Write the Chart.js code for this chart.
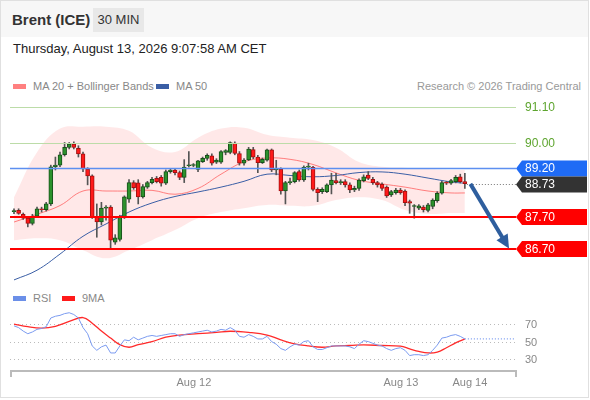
<!DOCTYPE html>
<html>
<head>
<meta charset="utf-8">
<script src="https://cdn.jsdelivr.net/npm/chart.js@4.4.1/dist/chart.umd.min.js"></script>
<style>
    body { margin: 0; background: #fff; font-family: "Liberation Sans", Arial, sans-serif; }
    .frame { position: absolute; left: 0; top: 0; width: 587px; height: 396px; border: 1px solid #e0e0e0; }
    .head { position: absolute; left: 1px; top: 1px; width: 587px; height: 36px; background: #f7f7f7; }
    .title { position: absolute; left: 11px; top: 10px; font-size: 15px; font-weight: bold; color: #333; }
    .tf { position: absolute; left: 92px; top: 7px; width: 51px; height: 24px; line-height: 24px; text-align: center; background: #e8e8e8; font-size: 13px; color: #333; }
    .date { position: absolute; left: 13px; top: 41px; font-size: 13px; color: #222; }
    .lg { position: absolute; font-size: 11px; color: #888; white-space: nowrap; }
    .sw { display: inline-block; width: 13px; height: 5px; vertical-align: middle; margin-right: 7px; position: relative; top: -1px; }
    canvas { position: absolute; left: 0; }
</style>
</head>
<body>
<div class="frame"></div>
<div class="head">
    <div class="title">Brent (ICE)</div>
    <div class="tf">30 MIN</div>
</div>
<div class="date">Thursday, August 13, 2026 9:07:58 AM CET</div>
<div class="lg" style="left:13px; top:80px;"><span class="sw" style="background:#ff8080"></span>MA 20 + Bollinger Bands</div>
<div class="lg" style="left:156px; top:80px;"><span class="sw" style="background:#3a5ea5"></span>MA 50</div>
<div class="lg" style="right:9px; top:80px; color:#999;">Research © 2026 Trading Central</div>
<div class="lg" style="left:13px; top:292px;"><span class="sw" style="background:#6b8fe8"></span>RSI</div>
<div class="lg" style="left:62px; top:292px;"><span class="sw" style="background:#ff1a1a"></span>9MA</div>

<canvas id="priceChart" width="590" height="194" style="top:94px"></canvas>
<canvas id="rsiChart" width="590" height="92" style="top:304px"></canvas>

<script>
// ---- Data (30 min candles, index 0 = oldest) ----
const opens  = [87.86,87.90,87.78,87.66,87.50,87.72,87.95,87.92,88.10,89.25,89.30,89.62,89.85,89.95,89.82,89.65,89.18,88.97,87.70,87.54,
                87.97,88.00,86.92,87.00,87.70,88.25,88.76,88.75,88.32,88.62,88.76,88.89,88.92,88.74,89.10,89.15,89.07,88.92,89.28,89.29,
                89.17,89.41,89.51,89.59,89.39,89.39,89.69,89.69,89.98,89.66,89.36,89.46,89.78,89.55,89.38,89.45,89.77,89.15,89.17,88.50,
                88.76,88.79,89.10,88.84,89.24,89.23,88.55,88.48,88.48,88.69,88.82,88.76,88.79,88.69,88.53,88.58,88.82,88.99,88.86,88.76,
                88.71,88.62,88.38,88.45,88.53,88.50,88.17,88.02,87.97,88.00,87.90,88.02,88.20,88.43,88.76,88.74,88.79,88.94,88.79];
const highs  = [87.95,87.95,87.82,87.70,87.78,88.00,88.00,88.15,89.30,89.55,89.70,90.00,90.00,90.02,89.90,89.70,89.22,89.00,88.10,88.15,
                88.05,88.05,87.15,87.75,88.35,88.85,88.82,88.85,88.70,88.80,88.92,88.95,88.98,89.15,89.20,89.20,89.12,89.47,89.72,89.35,
                89.45,89.55,89.65,89.65,89.50,89.75,89.78,90.02,90.02,89.72,89.50,89.85,89.85,89.60,89.52,89.80,89.80,89.45,89.22,88.80,
                88.90,89.10,89.15,89.28,89.36,89.26,88.60,88.60,88.72,89.05,89.05,88.85,88.85,88.75,88.65,88.88,89.00,89.10,88.92,88.80,
                88.75,88.66,88.52,88.58,88.58,88.54,88.22,88.08,88.08,88.05,88.12,88.26,88.48,88.80,88.80,88.86,88.98,89.02,89.05];
const lows   = [87.80,87.78,87.62,87.39,87.45,87.70,87.85,87.88,88.05,89.15,89.25,89.58,89.80,89.80,89.55,89.10,88.69,87.65,87.07,87.45,
                87.60,86.73,86.85,86.95,87.65,88.15,88.55,88.10,88.28,88.58,88.72,88.75,88.65,88.70,89.05,89.00,88.85,88.76,89.24,89.25,
                89.10,89.38,89.45,89.30,89.35,89.35,89.62,89.65,89.62,89.30,89.30,89.44,89.50,89.07,89.35,89.42,89.10,89.00,88.40,88.10,
                88.70,88.75,88.80,88.80,89.15,88.50,88.17,88.42,88.45,88.41,88.72,88.70,88.62,88.45,88.48,88.52,88.78,88.85,88.70,88.62,
                88.52,88.30,88.33,88.40,88.40,88.05,87.81,87.66,87.92,87.85,87.85,87.95,88.15,88.40,88.70,88.70,88.75,88.75,88.58];
const closes = [87.88,87.81,87.66,87.50,87.72,87.95,87.92,88.10,89.25,89.30,89.62,89.85,89.95,89.85,89.65,89.18,88.97,87.70,87.54,87.97,
                88.00,86.98,87.05,87.70,88.32,88.76,88.60,88.32,88.64,88.76,88.86,88.79,88.74,89.10,89.15,89.07,88.92,89.24,89.29,89.30,
                89.43,89.51,89.60,89.36,89.46,89.72,89.75,90.00,89.66,89.36,89.46,89.80,89.55,89.38,89.48,89.77,89.15,89.20,88.50,88.76,
                88.79,89.07,88.84,89.24,89.24,88.55,88.45,88.55,88.69,88.84,88.76,88.79,88.69,88.53,88.58,88.84,88.94,88.89,88.76,88.69,
                88.58,88.35,88.48,88.53,88.45,88.14,88.12,88.02,88.04,87.92,88.07,88.22,88.43,88.76,88.74,88.82,88.92,88.79,88.73];

// moving averages and bands, read at every 5th candle
const maIdx   = [0, 5, 10, 15, 20, 25, 30, 35, 40, 45, 50, 55, 60, 65, 70, 75, 80, 85, 90, 95, 98];
const ma20    = [87.54,87.78,88.05,88.50,88.50,88.50,88.52,88.40,88.58,89.02,89.40,89.52,89.48,89.32,89.06,88.83,88.72,88.62,88.50,88.44,88.44];
const ma50    = [85.75,86.05,86.55,87.10,87.48,87.85,88.13,88.33,88.47,88.62,88.80,89.02,88.98,88.94,88.98,89.07,89.09,89.02,88.90,88.78,88.74];
const bbUpper = [88.31,89.70,90.43,90.49,90.49,90.36,89.84,89.71,90.15,90.43,90.46,90.24,90.15,90.08,89.84,89.40,89.25,89.22,89.18,89.15,89.15];
const bbLower = [86.98,87.04,86.98,86.67,86.42,86.67,86.98,87.29,87.66,87.85,87.97,88.07,88.04,88.04,88.22,88.31,88.22,87.91,87.79,87.82,87.82];

// RSI per candle, 9MA read at sampled candles
const rsi = [68,66,62,59,61,64,65,67,77,79,80,82,83,81,77,66,59,45,40,44,
             46,37,37,45,52,51,55,52,54,56,57,56,57,58,59,59,56,58,59,60,
             61,62,63,61,62,64,63,66,63,56,55,58,56,53,53,56,50,47,42,40,
             44,47,46,50,51,44,41,41,43,45,45,45,45,44,42,47,51,50,48,46,
             45,42,40,42,43,40,34,35,35,34,35,40,46,54,55,57,58,56,53];
const rsiMaIdx = [0, 3, 6, 9, 12, 15, 17, 19, 21, 23, 25, 27, 30, 33, 36, 40, 44, 47, 51, 55, 58, 61, 64, 67, 70, 73, 76, 80, 84, 86, 88, 90, 92, 94, 96, 98];
const rsiMa    = [70,67,65.5,67.5,73,77.5,71,62,54,46.5,43.5,46.5,50,55,57.5,59,60.5,61.8,60.5,57.5,52,47.5,45,43.5,45.2,45.5,46.2,45.5,44.7,41.7,38.8,37,38,43,48.5,53];
const rsiLevels = [70, 50, 30];

// levels and projection
const resistances = [91.10, 90.00];
const pivot = 89.20;
const supports = [87.70, 86.70];
const lastPrice = 88.73;
const arrowFrom = [99.2, 88.72];
const arrowTo = [107.6, 86.72];

// x axis
const dayTicks = [39.1, 84.1, 99.1];
const dayLabels = ['Aug 12', 'Aug 13', 'Aug 14'];
const xMin = -0.87;
const xMax = 108.9;

const FONT = "'Liberation Sans', Arial, sans-serif";
const pts = (idx, vals) => idx.map((x, i) => ({ x, y: vals[i] }));

// ---- Price tag helper ----
function drawTag(ctx, py, text, bg) {
    ctx.fillStyle = bg;
    ctx.beginPath();
    ctx.moveTo(516, py);
    ctx.lineTo(522, py - 8);
    ctx.lineTo(587, py - 8);
    ctx.lineTo(587, py + 8);
    ctx.lineTo(522, py + 8);
    ctx.closePath();
    ctx.fill();
    ctx.fillStyle = '#fff';
    ctx.fillText(text, 525, py + 0.5);
}

const priceMarks = {
    id: 'priceMarks',
    afterDatasetsDraw(chart) {
        const { ctx, chartArea: a, scales: { x, y } } = chart;
        const right = a.right + 1;
        ctx.save();
        ctx.font = '12px ' + FONT;
        ctx.textBaseline = 'middle';

        resistances.forEach(v => {
            const py = Math.round(y.getPixelForValue(v)) + 0.5;
            ctx.strokeStyle = '#bcdca8';
            ctx.lineWidth = 1;
            ctx.beginPath(); ctx.moveTo(a.left, py); ctx.lineTo(right, py); ctx.stroke();
            ctx.fillStyle = '#5ea52f';
            ctx.fillText(v.toFixed(2), 525, py + 0.5);
        });

        const pp = Math.round(y.getPixelForValue(pivot)) + 0.5;
        ctx.strokeStyle = '#5d8ff0';
        ctx.lineWidth = 1.5;
        ctx.beginPath(); ctx.moveTo(a.left, pp); ctx.lineTo(right, pp); ctx.stroke();

        supports.forEach(v => {
            const py = Math.round(y.getPixelForValue(v));
            ctx.strokeStyle = '#ff0000';
            ctx.lineWidth = 2;
            ctx.beginPath(); ctx.moveTo(a.left, py); ctx.lineTo(right, py); ctx.stroke();
        });

        // last price dotted guide
        const lp = Math.round(y.getPixelForValue(lastPrice)) + 0.5;
        ctx.strokeStyle = '#777';
        ctx.lineWidth = 1;
        ctx.setLineDash([1, 2]);
        ctx.beginPath(); ctx.moveTo(x.getPixelForValue(closes.length - 1) + 2, lp); ctx.lineTo(right, lp); ctx.stroke();
        ctx.setLineDash([]);

        // projection arrow
        const x0 = x.getPixelForValue(arrowFrom[0]), y0 = y.getPixelForValue(arrowFrom[1]);
        const x1 = x.getPixelForValue(arrowTo[0]), y1 = y.getPixelForValue(arrowTo[1]);
        const ang = Math.atan2(y1 - y0, x1 - x0);
        const head = 15;
        ctx.strokeStyle = '#2e5e9e';
        ctx.fillStyle = '#2e5e9e';
        ctx.lineWidth = 4;
        ctx.beginPath();
        ctx.moveTo(x0, y0);
        ctx.lineTo(x1 - Math.cos(ang) * head * 0.8, y1 - Math.sin(ang) * head * 0.8);
        ctx.stroke();
        ctx.beginPath();
        ctx.moveTo(x1, y1);
        ctx.lineTo(x1 - head * Math.cos(ang - 0.45), y1 - head * Math.sin(ang - 0.45));
        ctx.lineTo(x1 - head * Math.cos(ang + 0.45), y1 - head * Math.sin(ang + 0.45));
        ctx.closePath();
        ctx.fill();

        // tags
        drawTag(ctx, pp, pivot.toFixed(2), '#1f6bf5');
        drawTag(ctx, lp, lastPrice.toFixed(2), '#333333');
        supports.forEach(v => drawTag(ctx, Math.round(y.getPixelForValue(v)), v.toFixed(2), '#ff0000'));
        ctx.restore();
    }
};

const rsiMarks = {
    id: 'rsiMarks',
    beforeDatasetsDraw(chart) {
        const { ctx, chartArea: a, scales: { y } } = chart;
        ctx.save();
        ctx.strokeStyle = '#bbb';
        ctx.lineWidth = 1;
        ctx.setLineDash([1, 3]);
        ctx.font = '11px ' + FONT;
        ctx.fillStyle = '#888';
        ctx.textBaseline = 'middle';
        rsiLevels.forEach(v => {
            const py = Math.round(y.getPixelForValue(v)) + 0.5;
            ctx.beginPath(); ctx.moveTo(a.left, py); ctx.lineTo(a.right, py); ctx.stroke();
            ctx.fillText(String(v), 525, py);
        });
        ctx.restore();
    },
    afterDatasetsDraw(chart) {
        const { ctx, chartArea: a, scales: { x, y } } = chart;
        ctx.save();
        // dotted continuation of RSI
        const ly = y.getPixelForValue(rsi[rsi.length - 1]);
        ctx.strokeStyle = '#7b9bf0';
        ctx.lineWidth = 1.2;
        ctx.setLineDash([1, 2]);
        ctx.beginPath(); ctx.moveTo(x.getPixelForValue(rsi.length - 1), ly); ctx.lineTo(a.right, ly); ctx.stroke();
        ctx.setLineDash([]);

        // time axis
        const by = a.bottom + 1;
        ctx.strokeStyle = '#bbb';
        ctx.lineWidth = 2;
        ctx.beginPath();
        ctx.moveTo(a.left + 1, by + 6); ctx.lineTo(a.left + 1, by); ctx.lineTo(a.right + 1, by); ctx.lineTo(a.right + 1, by + 6);
        ctx.stroke();
        ctx.font = '11px ' + FONT;
        ctx.fillStyle = '#888';
        ctx.textAlign = 'center';
        ctx.textBaseline = 'middle';
        dayTicks.forEach((t, i) => ctx.fillText(dayLabels[i], x.getPixelForValue(t), by + 12));
        ctx.restore();
    }
};

Chart.defaults.font.family = FONT;
Chart.defaults.animation = false;
Chart.defaults.plugins.legend.display = false;
Chart.defaults.plugins.tooltip.enabled = false;

// ---- Price chart ----
new Chart(document.getElementById('priceChart'), {
    type: 'bar',
    data: {
        datasets: [
            { type: 'line', data: pts(maIdx, bbUpper), borderColor: 'transparent', borderWidth: 0, pointRadius: 0,
              fill: '+1', backgroundColor: 'rgba(255, 0, 0, 0.09)', tension: 0.4, order: 7 },
            { type: 'line', data: pts(maIdx, bbLower), borderColor: 'transparent', borderWidth: 0, pointRadius: 0,
              fill: false, tension: 0.4, order: 8 },
            { type: 'line', data: pts(maIdx, ma20), borderColor: 'rgba(255, 90, 90, 0.75)', borderWidth: 1, pointRadius: 0,
              tension: 0.4, order: 5 },
            { type: 'line', data: pts(maIdx, ma50), borderColor: '#3a5ea5', borderWidth: 1, pointRadius: 0,
              tension: 0.4, order: 4 },
            { data: lows.map((l, i) => ({ x: i, y: [l, highs[i]] })), backgroundColor: '#555', borderWidth: 0,
              barThickness: 1, grouped: false, order: 3 },
            { data: opens.map((o, i) => ({ x: i, y: [o, closes[i]] })),
              backgroundColor: c => closes[c.dataIndex] >= opens[c.dataIndex] ? '#2c922c' : '#ff1a1a',
              borderColor: c => closes[c.dataIndex] >= opens[c.dataIndex] ? '#17501a' : '#a31010',
              borderWidth: 1, borderSkipped: false, minBarLength: 1, barThickness: 4, grouped: false, order: 2 }
        ]
    },
    options: {
        responsive: false,
        layout: { padding: { left: 10, right: 75, top: 0, bottom: 0 } },
        scales: {
            x: { type: 'linear', min: xMin, max: xMax, offset: false, display: false },
            y: { min: 85.5, max: 91.5, display: false }
        }
    },
    plugins: [priceMarks]
});

// ---- RSI chart ----
new Chart(document.getElementById('rsiChart'), {
    type: 'line',
    data: {
        datasets: [
            { data: rsi.map((v, i) => ({ x: i, y: v })), borderColor: '#7b9bf0', borderWidth: 1, pointRadius: 0, tension: 0 },
            { data: pts(rsiMaIdx, rsiMa), borderColor: '#ff2a2a', borderWidth: 1.3, pointRadius: 0, tension: 0.4 }
        ]
    },
    options: {
        responsive: false,
        layout: { padding: { left: 10, right: 75, top: 0, bottom: 26 } },
        scales: {
            x: { type: 'linear', min: xMin, max: xMax, offset: false, display: false },
            y: { min: 17.5, max: 93, display: false }
        }
    },
    plugins: [rsiMarks]
});
</script>
</body>
</html>
